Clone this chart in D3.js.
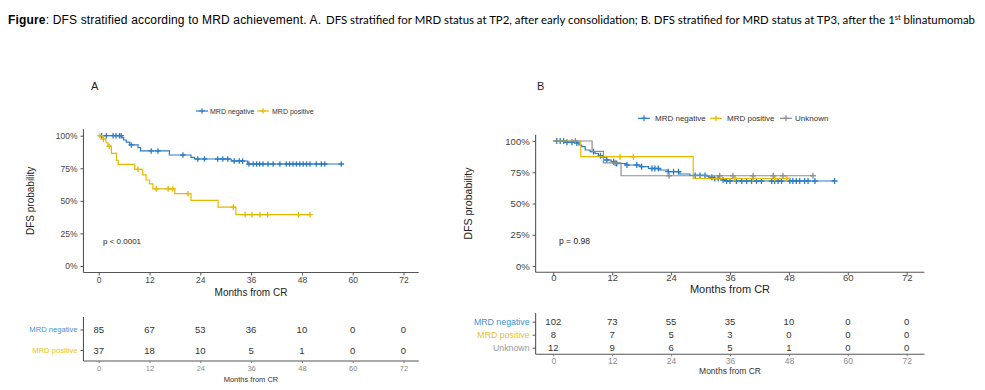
<!DOCTYPE html>
<html><head><meta charset="utf-8">
<script src="https://cdn.jsdelivr.net/npm/d3@7"></script>
<style>body{margin:0;background:#fff}svg{display:block}</style>
</head><body><svg id="c" width="985" height="390"></svg>
<script>
// ---------------- data ----------------
const monthTicks = [0, 12, 24, 36, 48, 60, 72];
const probTicks = [0, 0.25, 0.5, 0.75, 1];
const groupsA = ["MRD negative", "MRD positive"];
const groupsB = ["MRD negative", "MRD positive", "Unknown"];

// Panel A: [month, survival] at each step
const aNegSteps = [[0,1],[5.5,0.985],[5.9,0.967],[6.5,0.95],[7.3,0.929],[9.3,0.908],[9.9,0.883],[16.7,0.852],[21.8,0.834],[22.6,0.821],[31.3,0.806],[35.2,0.783]];
const aNegEnd = 57.3;
const aNegCensor = [0.7,1.8,3.4,4.1,4.9,5.3,7.7,12.4,14.0,19.9,23.4,25.0,28.1,29.3,30.5,32.0,33.2,34.0,35.5,36.5,37.3,38.0,38.8,40.0,41.2,42.8,44.3,45.1,45.9,46.7,47.5,48.3,49.1,49.9,51.4,52.6,53.4,57.3];
const aPosSteps = [[0,1],[1.0,0.973],[1.7,0.946],[2.2,0.919],[3.0,0.865],[4.2,0.811],[4.6,0.78],[8.5,0.742],[10.4,0.70],[11.2,0.66],[12.0,0.63],[12.8,0.592],[18.0,0.555],[21.8,0.503],[28.2,0.452],[32.4,0.394]];
const aPosEnd = 49.9;
const aPosCensor = [0.3,1.1,2.5,9.3,13.6,16.4,17.5,21.1,31.8,34.6,36.2,38.1,39.9,47.2,49.9];

// Panel B
const bNegSteps = [[0,1],[2.5,0.99],[4.4,0.985],[5.2,0.968],[5.8,0.955],[6.5,0.928],[7.5,0.915],[8.5,0.9],[9.2,0.883],[9.8,0.87],[10.8,0.848],[11.8,0.835],[12.8,0.82],[14.9,0.808],[17.7,0.795],[19.4,0.78],[21.7,0.768],[23.4,0.755],[25.8,0.736],[27.8,0.725],[31.2,0.718],[31.6,0.71],[32.6,0.70],[34.6,0.688],[35.3,0.68]];
const bNegEnd = 57.3;
const bNegCensor = [0.7,1.4,2.1,2.8,3.8,4.8,8.2,9.6,10.9,12.3,12.9,15.0,17.0,18.0,20.1,20.7,21.4,23.4,24.5,25.5,28.9,29.9,30.9,32.3,32.9,33.6,34.6,35.3,36.0,37.3,38.4,39.4,40.4,41.4,42.4,44.5,45.1,45.8,46.5,48.2,48.8,49.5,50.2,51.2,51.9,53.3,57.3];
const bPosSteps = [[0,1],[5.6,0.875],[28.5,0.70]];
const bPosEnd = 47.6;
const bPosCensor = [13.6,16.3,37.0,40.7,45.1,47.6];
const bUnkSteps = [[0,1],[7.9,0.917],[10.2,0.825],[13.8,0.722]];
const bUnkEnd = 52.9;
const bUnkCensor = [4.5,12.6,23.6,33.9,36.6,40.7,44.8,46.8,52.9];

// Numbers at risk
const riskANeg = [85,67,53,36,10,0,0];
const riskAPos = [37,18,10,5,1,0,0];
const riskBNeg = [102,73,55,35,10,0,0];
const riskBPos = [8,7,5,3,0,0,0];
const riskBUnk = [12,9,6,5,1,0,0];

const pValueA = "p < 0.0001";
const pValueB = "p = 0.98";

// ---------------- drawing ----------------
const COL = {"MRD negative":"#2a7cc4","MRD positive":"#e7b800","Unknown":"#8e8e8e"};
const TXT = {"MRD negative":"#3f8fd6","MRD positive":"#e8c22a","Unknown":"#9a9a9a"};
const AR = "'Liberation Sans', Arial, sans-serif";
const svg = d3.select("#c");

// Title
const t1 = svg.append("text").attr("x", 8).attr("y", 24).attr("font-family", AR).attr("font-size", 12)
  .attr("fill", "#000").attr("textLength", 313).attr("lengthAdjust", "spacing");
t1.append("tspan").attr("font-weight", "bold").text("Figure");
t1.append("tspan").text(": DFS stratified according to MRD achievement. A.");
const cal = "Lato, 'Open Sans', sans-serif";
const t2 = svg.append("text").attr("x", 326).attr("y", 24).attr("font-family", cal).attr("font-size", 10.8)
  .attr("fill", "#000").attr("textLength", 649).attr("lengthAdjust", "spacingAndGlyphs");
t2.append("tspan").text("DFS stratified for MRD status at TP2, after early consolidation; B. DFS stratified for MRD status at TP3, after the 1");
t2.append("tspan").attr("font-size", 7).attr("dy", -4).text("st");
t2.append("tspan").attr("dy", 4).text(" blinatumomab");

function survAt(steps, t) {
  const i = d3.bisector(d => d[0]).right(steps, t) - 1;
  return steps[Math.max(0, i)][1];
}
function plusPath(cx, cy, r) {
  const p = d3.path();
  p.moveTo(cx - r, cy); p.lineTo(cx + r, cy);
  p.moveTo(cx, cy - r); p.lineTo(cx, cy + r);
  return p.toString();
}

function panel(o) {
  const g = svg.append("g").attr("font-family", AR);
  const x = d3.scaleLinear().domain([0, 72]).range(o.xr);
  const y = d3.scaleLinear().domain([0, 1]).range(o.yr);
  const x0 = x(-3.6), x1 = x(75.6), y0 = y(-0.05), y1 = y(1.05);

  // panel letter
  g.append("text").attr("x", o.letterX).attr("y", 90).attr("font-size", 11).attr("fill", "#222").text(o.letter);

  // y axis
  const ya = g.append("g").attr("transform", `translate(${x0},0)`)
    .call(d3.axisLeft(y).tickValues(probTicks).tickFormat(d3.format(".0%")).tickSize(3).tickSizeOuter(0));
  ya.select(".domain").remove();
  ya.selectAll("line").attr("stroke", "#555");
  ya.selectAll("text").attr("font-size", o.fs.tick).attr("fill", "#444").attr("font-family", AR);
  // x axis
  const xa = g.append("g").attr("transform", `translate(0,${y0})`)
    .call(d3.axisBottom(x).tickValues(monthTicks).tickSize(3).tickSizeOuter(0));
  xa.select(".domain").remove();
  xa.selectAll("line").attr("stroke", "#555");
  xa.selectAll("text").attr("font-size", o.fs.tick).attr("fill", "#444").attr("font-family", AR).attr("dy", o.xdy);
  // axis lines
  g.append("line").attr("x1", x0).attr("x2", x0).attr("y1", y1).attr("y2", y0).attr("stroke", "#555").attr("stroke-width", 1.1);
  g.append("line").attr("x1", x0).attr("x2", x1).attr("y1", y0).attr("y2", y0).attr("stroke", "#555").attr("stroke-width", 1.1);

  // axis titles
  g.append("text").attr("x", o.xlabX).attr("y", o.xlabY).attr("text-anchor", "middle").attr("dominant-baseline", "central")
    .attr("font-size", o.fs.xlab).attr("fill", "#222").text("Months from CR");
  g.append("text").attr("transform", `translate(${o.ylabX},${(y0 + y1) / 2}) rotate(-90)`).attr("text-anchor", "middle")
    .attr("dominant-baseline", "central").attr("font-size", o.fs.ylab).attr("fill", "#222").text("DFS probability");
  // p value
  g.append("text").attr("x", o.pX).attr("y", 241).attr("dominant-baseline", "central").attr("font-size", o.fs.p)
    .attr("fill", "#222").text(o.p);

  // curves
  const line = d3.line().x(d => x(d[0])).y(d => y(d[1])).curve(d3.curveStepAfter);
  o.curves.forEach(c => {
    const pts = c.steps.concat([[c.end, c.steps[c.steps.length - 1][1]]]);
    g.append("path").attr("d", line(pts)).attr("fill", "none").attr("stroke", COL[c.name]).attr("stroke-width", 1.2);
    g.append("g").selectAll("path").data(c.censor).join("path")
      .attr("d", t => plusPath(x(t), y(survAt(c.steps, t)), o.cr))
      .attr("stroke", COL[c.name]).attr("stroke-width", 1.3).attr("fill", "none");
  });

  // legend
  o.legend.forEach(l => {
    g.append("line").attr("x1", l.mx - 6).attr("x2", l.mx + 6).attr("y1", o.legY).attr("y2", o.legY)
      .attr("stroke", COL[l.name]).attr("stroke-width", 1.2);
    g.append("path").attr("d", plusPath(l.mx, o.legY, o.cr)).attr("stroke", COL[l.name]).attr("stroke-width", 1.2);
    g.append("text").attr("x", l.tx).attr("y", o.legY).attr("dominant-baseline", "central").attr("font-size", o.fs.leg)
      .attr("fill", "#333").text(l.name);
  });

  // risk table
  const ty = d3.scalePoint().domain(o.groups).range(o.tr);
  const tl = g.append("g").attr("transform", `translate(${x0},0)`)
    .call(d3.axisLeft(ty).tickSize(3).tickSizeOuter(0));
  tl.select(".domain").remove();
  tl.selectAll("line").attr("stroke", "#555");
  tl.selectAll("text").attr("font-size", o.fs.tlab).attr("font-family", AR).attr("fill", d => TXT[d]);
  g.append("line").attr("x1", x0).attr("x2", x0).attr("y1", o.tTop).attr("y2", o.tBot).attr("stroke", "#555").attr("stroke-width", 1.1);
  g.append("line").attr("x1", x0).attr("x2", x1).attr("y1", o.tBot).attr("y2", o.tBot).attr("stroke", "#555").attr("stroke-width", 1.1);
  o.groups.forEach((gr, k) => {
    g.append("g").selectAll("text").data(o.risk[k]).join("text")
      .attr("x", (d, j) => x(monthTicks[j])).attr("y", ty(gr)).attr("text-anchor", "middle")
      .attr("dominant-baseline", "central").attr("font-size", o.fs.num).attr("fill", "#333").text(d => d);
  });
  const tb = g.append("g").attr("transform", `translate(0,${o.tBot})`)
    .call(d3.axisBottom(x).tickValues(monthTicks).tickSize(2).tickSizeOuter(0));
  tb.select(".domain").remove();
  tb.selectAll("line").attr("stroke", "#777");
  tb.selectAll("text").attr("font-size", o.fs.tt).attr("fill", "#8a8a8a").attr("font-family", AR).attr("dy", "0.6em");
  g.append("text").attr("x", o.xlabX).attr("y", o.tXlabY).attr("text-anchor", "middle").attr("dominant-baseline", "central")
    .attr("font-size", o.fs.tt).attr("fill", "#333").text("Months from CR");
}

panel({
  letter: "A", letterX: 91,
  xr: [98.7, 403.5], yr: [266, 135.7],
  xlabX: 251, xlabY: 292, ylabX: 30, pX: 103, p: pValueA, xdy: "0.5em",
  cr: 2.8,
  fs: {tick: 8.5, xlab: 10, ylab: 10, p: 8, leg: 7, tlab: 7.6, num: 9.5, tt: 7.5},
  curves: [
    {name: "MRD negative", steps: aNegSteps, end: aNegEnd, censor: aNegCensor},
    {name: "MRD positive", steps: aPosSteps, end: aPosEnd, censor: aPosCensor}
  ],
  legY: 111,
  legend: [{name: "MRD negative", mx: 202, tx: 210}, {name: "MRD positive", mx: 263, tx: 272}],
  groups: groupsA, risk: [riskANeg, riskAPos], tr: [329.5, 350], tTop: 317, tBot: 361, tXlabY: 379
});

panel({
  letter: "B", letterX: 537,
  xr: [553.3, 906.7], yr: [266, 141],
  xlabX: 730, xlabY: 289, ylabX: 468, pX: 559, p: pValueB, xdy: "0.3em",
  cr: 3,
  fs: {tick: 9.5, xlab: 11, ylab: 10.5, p: 8.5, leg: 8, tlab: 8.8, num: 9.5, tt: 8.5},
  curves: [
    {name: "MRD negative", steps: bNegSteps, end: bNegEnd, censor: bNegCensor},
    {name: "MRD positive", steps: bPosSteps, end: bPosEnd, censor: bPosCensor},
    {name: "Unknown", steps: bUnkSteps, end: bUnkEnd, censor: bUnkCensor}
  ],
  legY: 118.3,
  legend: [{name: "MRD negative", mx: 644, tx: 655}, {name: "MRD positive", mx: 716, tx: 727}, {name: "Unknown", mx: 786, tx: 795}],
  groups: groupsB, risk: [riskBNeg, riskBPos, riskBUnk], tr: [321.7, 347.7], tTop: 313, tBot: 354.3, tXlabY: 371
});
</script></body></html>
